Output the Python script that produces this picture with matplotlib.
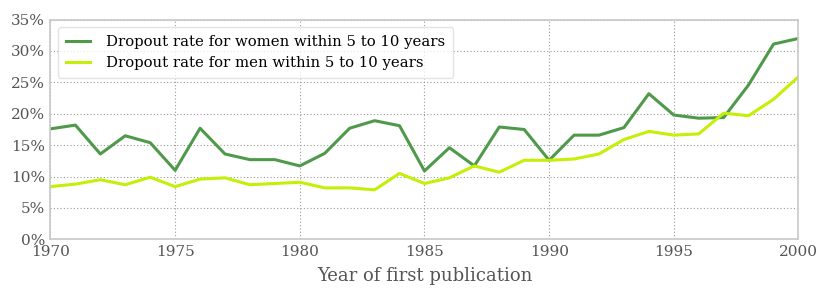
import matplotlib
matplotlib.use("Agg")
import matplotlib.pyplot as plt
from matplotlib.ticker import FuncFormatter

# データ
years = list(range(1970, 2001))
women = [17.6, 18.2, 13.6, 16.5, 15.4, 11.0, 17.7, 13.6, 12.7, 12.7,
         11.7, 13.7, 17.7, 18.9, 18.1, 10.9, 14.6, 11.7, 17.9, 17.5,
         12.6, 16.6, 16.6, 17.8, 23.2, 19.8, 19.3, 19.4, 24.6, 31.1, 32.0]
men = [8.4, 8.8, 9.5, 8.7, 9.9, 8.4, 9.6, 9.8, 8.7, 8.9,
       9.1, 8.2, 8.2, 7.9, 10.5, 8.9, 9.8, 11.7, 10.7, 12.6,
       12.6, 12.8, 13.6, 15.9, 17.2, 16.6, 16.8, 20.1, 19.7, 22.3, 25.9]
labels = ["Dropout rate for women within 5 to 10 years",
          "Dropout rate for men within 5 to 10 years"]

plt.rcParams['font.family'] = 'DejaVu Serif'

fig = plt.figure(figsize=(8.3, 2.97), dpi=100)
ax = fig.add_axes([0.0608, 0.194, 0.9012, 0.740])

ax.plot(years, women, color='#4f994a', lw=2.2, label=labels[0])
ax.plot(years, men, color='#c4ef06', lw=2.2, label=labels[1])

ax.set_xlim(1970, 2000)
ax.set_ylim(0, 35)
ax.set_xticks(range(1970, 2001, 5))
ax.set_yticks(range(0, 36, 5))
ax.yaxis.set_major_formatter(FuncFormatter(lambda v, p: '%d%%' % v))
ax.tick_params(length=0, labelsize=11, labelcolor='#555555', pad=4)
ax.grid(True, linestyle=(0, (1, 2)), color='#9a9a9a', lw=0.8)

for s in ax.spines.values():
    s.set_color('#c8c8c8')
    s.set_linewidth(1.2)

ax.set_xlabel('Year of first publication', fontsize=13, color='#555555', labelpad=6)

leg = ax.legend(loc='upper left', fontsize=10.7, frameon=True, handlelength=1.6,
                handletextpad=1.1, borderpad=0.55, labelspacing=0.45)
leg.get_frame().set_edgecolor('#dddddd')

fig.savefig('out.png', dpi=100)
